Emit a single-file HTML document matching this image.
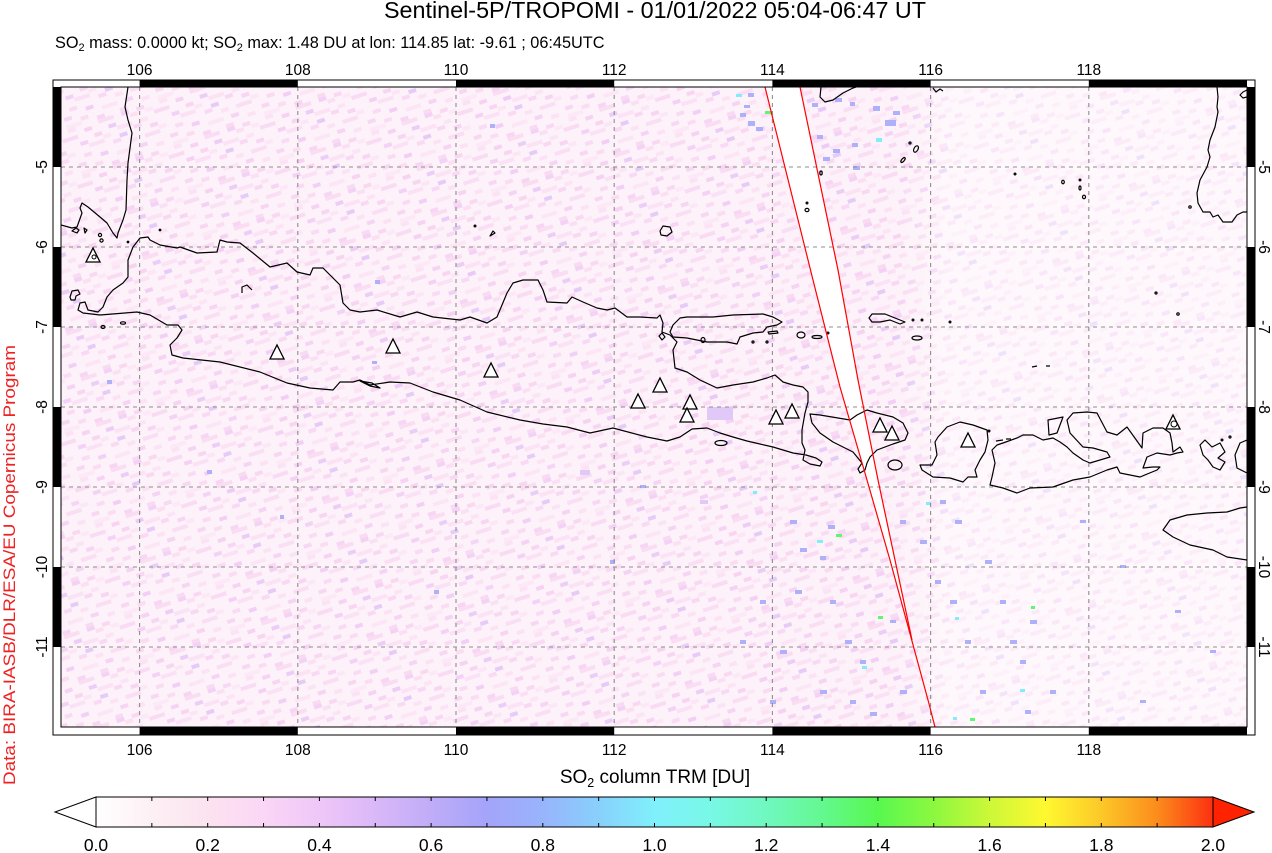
<!DOCTYPE html>
<html><head><meta charset="utf-8"><style>
html,body{margin:0;padding:0;background:#fff;width:1272px;height:853px;overflow:hidden}
svg{display:block}
text{font-family:"Liberation Sans",Arial,sans-serif}
</style></head><body>
<svg width="1272" height="853" viewBox="0 0 1272 853" xmlns="http://www.w3.org/2000/svg">
<defs>
<pattern id="pA" width="96" height="48" patternUnits="userSpaceOnUse" patternTransform="rotate(-18)">
<rect width="96" height="48" fill="#fdf2f9"/>
<rect x="0" y="0" width="8" height="4" fill="#f9d8f2"/>
<rect x="24" y="0" width="8" height="4" fill="#fbe2f5"/>
<rect x="56" y="0" width="16" height="4" fill="#fadcf3"/>
<rect x="80" y="0" width="8" height="4" fill="#f3d2f6"/>
<rect x="8" y="4" width="8" height="4" fill="#fce8f6"/>
<rect x="40" y="4" width="8" height="4" fill="#f6d3f3"/>
<rect x="88" y="4" width="8" height="4" fill="#fbe0f4"/>
<rect x="16" y="8" width="16" height="4" fill="#f9dbf3"/>
<rect x="64" y="8" width="8" height="4" fill="#eccdf7"/>
<rect x="0" y="12" width="8" height="4" fill="#fbe4f6"/>
<rect x="48" y="12" width="8" height="4" fill="#f8d6f2"/>
<rect x="72" y="12" width="16" height="4" fill="#fbe2f5"/>
<rect x="32" y="16" width="8" height="4" fill="#f4d2f5"/>
<rect x="56" y="16" width="8" height="4" fill="#fce6f6"/>
<rect x="88" y="16" width="8" height="4" fill="#f8d8f3"/>
<rect x="8" y="20" width="8" height="4" fill="#f7d5f3"/>
<rect x="40" y="20" width="16" height="4" fill="#fbe1f5"/>
<rect x="72" y="20" width="8" height="4" fill="#e6cbf8"/>
<rect x="16" y="24" width="8" height="4" fill="#fce7f6"/>
<rect x="64" y="24" width="8" height="4" fill="#f9d9f3"/>
<rect x="0" y="28" width="16" height="4" fill="#fadef4"/>
<rect x="32" y="28" width="8" height="4" fill="#f9dbf3"/>
<rect x="80" y="28" width="8" height="4" fill="#fbe3f5"/>
<rect x="48" y="32" width="8" height="4" fill="#f2d0f6"/>
<rect x="24" y="36" width="8" height="4" fill="#f8d7f2"/>
<rect x="64" y="36" width="16" height="4" fill="#fce6f6"/>
<rect x="88" y="36" width="8" height="4" fill="#f6d4f4"/>
<rect x="8" y="40" width="8" height="4" fill="#fbe2f5"/>
<rect x="40" y="40" width="8" height="4" fill="#fadcf3"/>
<rect x="56" y="44" width="8" height="4" fill="#f7d6f3"/>
<rect x="24" y="44" width="16" height="4" fill="#fce8f7"/>
<rect x="80" y="44" width="8" height="4" fill="#f9daf3"/>
</pattern>
<pattern id="pB" width="96" height="48" patternUnits="userSpaceOnUse" patternTransform="rotate(-18)">
<rect width="96" height="48" fill="#fef8fc"/>
<rect x="0" y="0" width="8" height="4" fill="#fbe4f5"/>
<rect x="40" y="4" width="16" height="4" fill="#fdebf7"/>
<rect x="72" y="8" width="8" height="4" fill="#fae0f4"/>
<rect x="16" y="12" width="8" height="4" fill="#fce8f7"/>
<rect x="56" y="20" width="8" height="4" fill="#f9dcf3"/>
<rect x="88" y="24" width="8" height="4" fill="#fde9f7"/>
<rect x="24" y="28" width="16" height="4" fill="#fbe3f5"/>
<rect x="64" y="36" width="8" height="4" fill="#fce6f6"/>
<rect x="8" y="40" width="8" height="4" fill="#fae1f4"/>
<rect x="48" y="44" width="8" height="4" fill="#fdecf8"/>
</pattern>
<linearGradient id="fadeE" x1="0" y1="0" x2="1" y2="0">
<stop offset="0" stop-color="#fff" stop-opacity="0"/>
<stop offset="0.15" stop-color="#fff" stop-opacity="0.45"/>
<stop offset="1" stop-color="#fff" stop-opacity="0.45"/>
</linearGradient>
<linearGradient id="cb" x1="0" y1="0" x2="1" y2="0">
<stop offset="0" stop-color="#ffffff"/>
<stop offset="0.05" stop-color="#fdf0f4"/>
<stop offset="0.10" stop-color="#fce3f0"/>
<stop offset="0.15" stop-color="#fbd6f6"/>
<stop offset="0.20" stop-color="#efc7f8"/>
<stop offset="0.25" stop-color="#dab8f8"/>
<stop offset="0.30" stop-color="#c0acf8"/>
<stop offset="0.35" stop-color="#a4a4fa"/>
<stop offset="0.40" stop-color="#98b4fc"/>
<stop offset="0.45" stop-color="#88d0fc"/>
<stop offset="0.50" stop-color="#80f0fc"/>
<stop offset="0.55" stop-color="#78f8e6"/>
<stop offset="0.60" stop-color="#70f8c0"/>
<stop offset="0.65" stop-color="#64f890"/>
<stop offset="0.70" stop-color="#58f850"/>
<stop offset="0.75" stop-color="#8cf840"/>
<stop offset="0.80" stop-color="#ccf838"/>
<stop offset="0.85" stop-color="#fff830"/>
<stop offset="0.90" stop-color="#fcc828"/>
<stop offset="0.95" stop-color="#fc8c1c"/>
<stop offset="1" stop-color="#fc3010"/>
</linearGradient>
<clipPath id="mc"><rect x="61" y="87" width="1186" height="640"/></clipPath>
</defs>

<rect width="1272" height="853" fill="#fff"/>

<!-- Title -->
<text x="655" y="18" font-size="23" text-anchor="middle" textLength="542" lengthAdjust="spacingAndGlyphs">Sentinel-5P/TROPOMI - 01/01/2022 05:04-06:47 UT</text>
<text x="55" y="48" font-size="16.3">SO<tspan font-size="11" dy="3">2</tspan><tspan dy="-3"> mass: 0.0000 kt; SO</tspan><tspan font-size="11" dy="3">2</tspan><tspan dy="-3"> max: 1.48 DU at lon: 114.85 lat: -9.61 ; 06:45UTC</tspan></text>

<!-- Map -->
<g clip-path="url(#mc)">
<rect x="61" y="87" width="1186" height="640" fill="url(#pA)"/>
<rect x="900" y="87" width="347" height="640" fill="url(#fadeE)"/>
<!-- swath gap -->
<polygon points="765,87 800,87 838,270 858,380 878,480 895,560 912,640 890,560 867,480 840,387 813,280" fill="#fff"/>
<!-- coloured pixels -->
<g fill="#aeb0fa">
<rect x="748" y="93" width="6" height="4"/><rect x="744" y="105" width="6" height="3"/><rect x="740" y="113" width="6" height="4"/>
<rect x="748" y="121" width="7" height="5"/><rect x="756" y="127" width="7" height="4"/><rect x="812" y="103" width="6" height="4"/>
<rect x="835" y="98" width="7" height="4"/><rect x="850" y="102" width="5" height="4"/><rect x="873" y="106" width="7" height="5"/>
<rect x="885" y="120" width="11" height="6"/><rect x="893" y="111" width="7" height="4"/><rect x="817" y="135" width="6" height="4"/>
<rect x="833" y="149" width="7" height="4"/><rect x="852" y="143" width="6" height="4"/><rect x="823" y="157" width="7" height="4"/>
<rect x="853" y="166" width="7" height="4"/><rect x="490" y="124" width="5" height="4"/><rect x="375" y="280" width="5" height="4"/>
<rect x="372" y="361" width="5" height="3"/><rect x="434" y="590" width="5" height="4"/><rect x="280" y="515" width="4" height="4"/>
<rect x="107" y="380" width="5" height="4"/><rect x="207" y="470" width="5" height="4"/><rect x="610" y="560" width="5" height="4"/>
<rect x="640" y="485" width="6" height="3"/><rect x="790" y="520" width="7" height="4"/><rect x="800" y="548" width="7" height="4"/>
<rect x="820" y="556" width="6" height="4"/><rect x="828" y="525" width="7" height="4"/><rect x="795" y="590" width="7" height="4"/>
<rect x="830" y="600" width="6" height="4"/><rect x="845" y="640" width="7" height="4"/><rect x="860" y="660" width="6" height="4"/>
<rect x="820" y="690" width="7" height="4"/><rect x="850" y="700" width="6" height="4"/><rect x="870" y="712" width="7" height="4"/>
<rect x="900" y="520" width="6" height="4"/><rect x="920" y="540" width="7" height="4"/><rect x="935" y="580" width="6" height="4"/>
<rect x="950" y="600" width="7" height="4"/><rect x="965" y="640" width="6" height="4"/><rect x="985" y="560" width="7" height="4"/>
<rect x="1000" y="600" width="6" height="4"/><rect x="1010" y="640" width="7" height="4"/><rect x="1020" y="660" width="6" height="4"/>
<rect x="1030" y="620" width="7" height="4"/><rect x="980" y="690" width="6" height="4"/><rect x="900" y="690" width="7" height="4"/>
<rect x="760" y="600" width="6" height="4"/><rect x="780" y="650" width="7" height="4"/><rect x="740" y="640" width="6" height="4"/>
<rect x="940" y="500" width="6" height="4"/><rect x="955" y="520" width="7" height="4"/><rect x="1050" y="690" width="6" height="4"/>
<rect x="890" y="620" width="6" height="3"/><rect x="1025" y="710" width="6" height="4"/><rect x="770" y="700" width="6" height="4"/>
<rect x="1120" y="565" width="6" height="3"/><rect x="1175" y="610" width="6" height="3"/><rect x="1210" y="650" width="6" height="3"/>
<rect x="1080" y="520" width="6" height="3"/><rect x="1140" y="700" width="6" height="3"/>
</g>
<g fill="#e0c8f8"><rect x="707" y="407" width="26" height="13"/><rect x="580" y="470" width="10" height="5"/><rect x="700" y="500" width="8" height="4"/></g>
<g fill="#80ecfc">
<rect x="736" y="94" width="6" height="3"/><rect x="876" y="138" width="6" height="4"/><rect x="817" y="540" width="6" height="3"/>
<rect x="753" y="491" width="4" height="3"/><rect x="862" y="666" width="5" height="3"/><rect x="955" y="617" width="4" height="3"/>
<rect x="1020" y="689" width="5" height="3"/><rect x="953" y="717" width="4" height="3"/><rect x="926" y="502" width="5" height="3"/>
</g>
<g fill="#5cf870">
<rect x="765" y="111" width="7" height="3"/><rect x="836" y="534" width="6" height="3"/><rect x="878" y="616" width="5" height="3"/>
<rect x="1031" y="606" width="4" height="3"/><rect x="970" y="718" width="5" height="3"/>
</g>

<!-- grid -->
<g stroke="#8e8e8e" stroke-width="1.1" stroke-dasharray="4,4" fill="none">
<line x1="139.6" y1="87" x2="139.6" y2="727"/><line x1="297.8" y1="87" x2="297.8" y2="727"/>
<line x1="456" y1="87" x2="456" y2="727"/><line x1="614.2" y1="87" x2="614.2" y2="727"/>
<line x1="772.4" y1="87" x2="772.4" y2="727"/><line x1="930.6" y1="87" x2="930.6" y2="727"/>
<line x1="1088.8" y1="87" x2="1088.8" y2="727"/>
<line x1="61" y1="167" x2="1247" y2="167"/><line x1="61" y1="247" x2="1247" y2="247"/>
<line x1="61" y1="327" x2="1247" y2="327"/><line x1="61" y1="407" x2="1247" y2="407"/>
<line x1="61" y1="487" x2="1247" y2="487"/><line x1="61" y1="567" x2="1247" y2="567"/>
<line x1="61" y1="647" x2="1247" y2="647"/>
</g>

<!-- coastlines -->
<g fill="none" stroke="#000" stroke-width="1.2" stroke-linejoin="round">
<path d="M128,87 L125,107 L128,120 L132,133 L128,163 L127,180 L126,210 L123,220 L118,233 L117,238 L113,233 L107,223 L100,217 L88,207 L82,203 L80,208 L82,213 L77,227 L72,228 L61,225"/>
<path d="M72,231 l4,-3 l3,2 l-2,3 z M84,228 l3,2 l-2,3 z"/>
<circle cx="100" cy="235" r="1.6"/><circle cx="101.5" cy="240.5" r="1.6"/>
<path d="M70,297 L72,291 L78,290 L80,294 L76,296 L75,300 L71,300 Z"/>
<path d="M78,310 L80,303 L85,302 L88,310 L98,312 L103,307 L107,297 L113,290 L123,283 L128,277 L128,260 L133,247 L140,238 L148,237 L150,240 L160,245 L177,248 L180,247 L197,253 L217,252 L220,240 L227,242 L240,243 L253,253 L270,267 L287,263 L297,272 L310,275 L313,268 L323,268 L340,285 L343,303 L350,310 L360,312 L377,310 L400,317 L417,312 L433,317 L460,320 L470,317 L487,323 L497,317 L507,293 L513,283 L523,280 L538,280 L543,290 L547,302 L567,303 L572,297 L583,302 L597,308 L607,310 L615,308 L627,317 L640,317 L657,318 L660,315 L663,323 L662,332 L670,335 L677,342 L673,350 L675,368 L687,372 L700,380 L717,388 L733,385 L753,382 L767,378 L775,375 L783,382 L793,385 L803,387 L808,392 L808,402 L805,413 L802,430 L802,443 L805,450 L803,460 L810,464 L820,466 L822,462 L816,458 L806,455 L793,453 L773,447 L760,444 L747,441 L733,437 L720,433 L707,428 L692,429 L680,437 L667,441 L647,437 L613,428 L590,433 L567,427 L543,424 L520,420 L487,412 L460,400 L433,392 L410,383 L390,382 L370,385 L360,380 L353,382 L340,382 L333,390 L310,388 L287,383 L260,372 L220,362 L183,358 L172,355 L170,345 L177,338 L182,330 L178,325 L167,325 L150,315 L137,312 L100,315 L83,313 Z"/>
<path d="M360,381 L372,383 L380,388 L370,386 Z"/>
<ellipse cx="103" cy="327" rx="2" ry="1.5"/><ellipse cx="123" cy="323" rx="2.5" ry="1.2"/>
<circle cx="128" cy="242" r="0.8"/><circle cx="160" cy="230" r="0.8"/>
<path d="M242,293 L242,287 L247,285 L252,290"/>
<circle cx="475" cy="226" r="0.9"/><path d="M490,236 L493,231 L495,233 Z"/>
<path d="M660,231 L663,226 L670,227 L672,232 L667,236 L661,235 Z"/>
<path d="M673,325 L680,318 L687,317 L713,317 L733,315 L763,314 L773,317 L782,322 L777,325 L767,327 L763,332 L753,333 L740,337 L737,344 L727,342 L707,342 L687,338 L673,337 L670,332 Z"/>
<path d="M659,336 L662,333 L665,337 L662,340 Z"/>
<ellipse cx="703" cy="340" rx="2" ry="2.5"/><circle cx="753" cy="342" r="1"/><circle cx="767" cy="342" r="1"/>
<path d="M768,332 L777,331 L778,333 L769,334 Z"/>
<ellipse cx="801" cy="335" rx="4" ry="3"/><ellipse cx="817" cy="337" rx="5" ry="1.5"/><circle cx="828" cy="333" r="0.9"/>
<path d="M869,318 L872,314 L885,314 L895,318 L905,322 L900,324 L890,320 L880,322 L872,322 Z"/>
<ellipse cx="917" cy="338" rx="5" ry="2"/><circle cx="913" cy="320" r="0.9"/><circle cx="922" cy="320" r="0.9"/><circle cx="950" cy="322" r="0.9"/>
<path d="M821,87 L820,97 L825,102 L833,100 L843,93 L853,88 L856,87"/>
<path d="M933,88 L936,92 L940,89 L943,91"/>
<circle cx="910" cy="143" r="1"/><ellipse cx="916" cy="149" rx="2" ry="3.5" transform="rotate(30 916 149)"/>
<ellipse cx="903" cy="160" rx="1.3" ry="3" transform="rotate(40 903 160)"/>
<ellipse cx="821" cy="173" rx="1.2" ry="2"/><circle cx="807" cy="203" r="0.9"/><ellipse cx="807" cy="210" rx="2" ry="1.6"/>
<circle cx="1015" cy="174" r="0.9"/><ellipse cx="1063" cy="182" rx="1.3" ry="1.8"/><circle cx="1080" cy="180" r="0.9"/>
<ellipse cx="1080" cy="188" rx="1" ry="2"/><ellipse cx="1084" cy="197" rx="1.5" ry="1.8"/>
<path d="M1217,87 L1218,97 L1217,107 L1218,112 L1215,127 L1210,140 L1208,150 L1210,157 L1207,167 L1200,180 L1197,193 L1198,203 L1203,212 L1210,212 L1213,217 L1218,215 L1223,222 L1232,222 L1237,215 L1243,212 L1247,212"/>
<path d="M1247,90 L1243,92 L1240,95 L1243,98 L1247,97"/>
<circle cx="1190" cy="207" r="1.2"/><circle cx="1156" cy="293" r="1"/><circle cx="1178" cy="314" r="1.2"/>
<path d="M1032,367 L1037,366 M1046,366 L1050,366"/>
<path d="M810,414 L820,415 L850,420 L857,415 L867,410 L877,413 L893,417 L903,423 L908,433 L905,440 L893,444 L877,450 L870,457 L867,463 L865,470 L860,473 L858,469 L862,463 L853,452 L833,442 L820,433 L812,423 Z"/>
<ellipse cx="895" cy="465" rx="7" ry="5"/><ellipse cx="721" cy="443" rx="6" ry="2.5"/>
<path d="M920,465 L922,470 L933,477 L950,478 L963,482 L968,477 L977,477 L975,470 L980,460 L985,452 L988,440 L987,430 L973,425 L960,422 L947,427 L938,437 L935,442 L937,455 L932,465 Z"/>
<path d="M996,441 L1003,440 M1006,439 L1011,439"/><circle cx="989" cy="431" r="0.9"/>
<path d="M992,450 L995,463 L992,477 L990,485 L1003,488 L1017,493 L1030,488 L1053,487 L1073,480 L1090,477 L1107,470 L1117,467 L1120,473 L1140,477 L1157,470 L1160,467 L1153,467 L1143,468 L1147,457 L1157,453 L1170,455 L1177,453 L1183,452 L1180,447 L1173,452 L1172,443 L1170,433 L1163,428 L1153,428 L1143,433 L1142,448 L1127,427 L1117,435 L1107,432 L1097,413 L1087,412 L1073,413 L1067,420 L1070,433 L1083,447 L1093,448 L1107,452 L1110,457 L1100,460 L1090,463 L1083,460 L1073,453 L1067,447 L1060,442 L1053,438 L1043,440 L1033,435 L1023,435 L1017,438 L1003,443 L997,445 Z"/>
<path d="M1048,420 L1063,417 L1057,433 L1049,435 Z"/>
<path d="M1200,445 L1205,440 L1212,447 L1220,443 L1225,452 L1218,458 L1225,462 L1220,470 L1213,467 L1208,460 L1203,455 Z"/>
<path d="M1247,440 L1240,443 L1235,455 L1237,468 L1247,473"/>
<circle cx="1230" cy="437" r="1"/><circle cx="1222" cy="440" r="0.9"/>
<path d="M1247,507 L1240,508 L1227,512 L1207,513 L1187,515 L1170,520 L1163,530 L1173,537 L1190,545 L1213,550 L1227,557 L1247,560"/>
</g>

<!-- red orbit lines -->
<g fill="none" stroke="#ff0000" stroke-width="1.2">
<polyline points="765,87 813,280 840,387 867,480 890,560 928,700 935,727"/>
<polyline points="800,87 838,270 858,380 878,480 895,560 912,640"/>
</g>

<!-- volcano triangles -->
<g fill="#fff" stroke="#000" stroke-width="1.3" stroke-linejoin="miter">
<polygon points="86,262 100,262 93,248"/>
<polygon points="270,359 284,359 277,345"/>
<polygon points="386,353 400,353 393,339"/>
<polygon points="484,377 498,377 491,363"/>
<polygon points="653,392 667,392 660,378"/>
<polygon points="631,408 645,408 638,394"/>
<polygon points="683,409 697,409 690,395"/>
<polygon points="680,422 694,422 687,408"/>
<polygon points="769,424 783,424 776,410"/>
<polygon points="785,418 799,418 792,404"/>
<polygon points="873,432 887,432 880,418"/>
<polygon points="885,440 899,440 892,426"/>
<polygon points="961,447 975,447 968,433"/>
<polygon points="1166,429 1180,429 1173,415"/>
</g>
<circle cx="94" cy="257" r="2" fill="none" stroke="#000" stroke-width="1"/>
<circle cx="1174" cy="424" r="3" fill="none" stroke="#000" stroke-width="1"/>
</g>

<!-- frame -->
<rect x="53" y="80" width="1202" height="655" fill="none" stroke="#000" stroke-width="1"/>
<rect x="61" y="87" width="1186" height="640" fill="none" stroke="#000" stroke-width="1"/>
<g fill="#000">
<rect x="139.6" y="80" width="158.2" height="7"/><rect x="456" y="80" width="158.2" height="7"/>
<rect x="772.4" y="80" width="158.2" height="7"/><rect x="1088.8" y="80" width="158.2" height="7"/>
<rect x="139.6" y="727" width="158.2" height="8"/><rect x="456" y="727" width="158.2" height="8"/>
<rect x="772.4" y="727" width="158.2" height="8"/><rect x="1088.8" y="727" width="158.2" height="8"/>
<rect x="53" y="87" width="8" height="80"/><rect x="53" y="247" width="8" height="80"/>
<rect x="53" y="407" width="8" height="80"/><rect x="53" y="567" width="8" height="80"/>
<rect x="1247" y="87" width="8" height="80"/><rect x="1247" y="247" width="8" height="80"/>
<rect x="1247" y="407" width="8" height="80"/><rect x="1247" y="567" width="8" height="80"/>
</g>

<!-- axis labels -->
<g font-size="15.5" text-anchor="middle" fill="#000">
<text x="139.6" y="75">106</text><text x="297.8" y="75">108</text><text x="456" y="75">110</text>
<text x="614.2" y="75">112</text><text x="772.4" y="75">114</text><text x="930.6" y="75">116</text><text x="1088.8" y="75">118</text>
<text x="139.6" y="755">106</text><text x="297.8" y="755">108</text><text x="456" y="755">110</text>
<text x="614.2" y="755">112</text><text x="772.4" y="755">114</text><text x="930.6" y="755">116</text><text x="1088.8" y="755">118</text>
<text transform="translate(47,167) rotate(-90)">-5</text>
<text transform="translate(47,247) rotate(-90)">-6</text>
<text transform="translate(47,327) rotate(-90)">-7</text>
<text transform="translate(47,407) rotate(-90)">-8</text>
<text transform="translate(47,487) rotate(-90)">-9</text>
<text transform="translate(47,567) rotate(-90)">-10</text>
<text transform="translate(47,647) rotate(-90)">-11</text>
<text transform="translate(1259,167) rotate(90)">-5</text>
<text transform="translate(1259,247) rotate(90)">-6</text>
<text transform="translate(1259,327) rotate(90)">-7</text>
<text transform="translate(1259,407) rotate(90)">-8</text>
<text transform="translate(1259,487) rotate(90)">-9</text>
<text transform="translate(1259,567) rotate(90)">-10</text>
<text transform="translate(1259,647) rotate(90)">-11</text>
</g>

<!-- data credit -->
<text transform="translate(15,565) rotate(-90)" font-size="16.5" text-anchor="middle" fill="#ee2222" textLength="440" lengthAdjust="spacingAndGlyphs">Data: BIRA-IASB/DLR/ESA/EU Copernicus Program</text>

<!-- colorbar -->
<text x="655" y="783" font-size="19" text-anchor="middle">SO<tspan font-size="12.5" dy="4">2</tspan><tspan dy="-4"> column TRM [DU]</tspan></text>
<rect x="96" y="797" width="1117" height="30" fill="url(#cb)" stroke="#000" stroke-width="1"/>
<polygon points="96,797 55,812 96,827" fill="#fff" stroke="#000" stroke-width="1"/>
<polygon points="1213,797 1254,812 1213,827" fill="#ff2200" stroke="#000" stroke-width="1"/>
<g stroke="#000" stroke-width="1">
<path d="M151.85,797v4M207.7,797v4M263.55,797v4M319.4,797v4M375.25,797v4M431.1,797v4M486.95,797v4M542.8,797v4M598.65,797v4M654.5,797v4M710.35,797v4M766.2,797v4M822.05,797v4M877.9,797v4M933.75,797v4M989.6,797v4M1045.45,797v4M1101.3,797v4M1157.15,797v4"/>
<path d="M151.85,827v-4M207.7,827v-4M263.55,827v-4M319.4,827v-4M375.25,827v-4M431.1,827v-4M486.95,827v-4M542.8,827v-4M598.65,827v-4M654.5,827v-4M710.35,827v-4M766.2,827v-4M822.05,827v-4M877.9,827v-4M933.75,827v-4M989.6,827v-4M1045.45,827v-4M1101.3,827v-4M1157.15,827v-4"/>
</g>
<g font-size="17.5" text-anchor="middle" fill="#000">
<text x="96" y="851">0.0</text><text x="207.7" y="851">0.2</text><text x="319.4" y="851">0.4</text>
<text x="431.1" y="851">0.6</text><text x="542.8" y="851">0.8</text><text x="654.5" y="851">1.0</text>
<text x="766.2" y="851">1.2</text><text x="877.9" y="851">1.4</text><text x="989.6" y="851">1.6</text>
<text x="1101.3" y="851">1.8</text><text x="1213" y="851">2.0</text>
</g>
</svg>
</body></html>
